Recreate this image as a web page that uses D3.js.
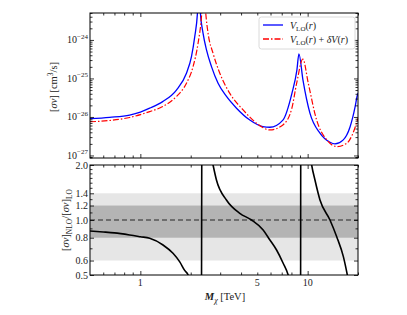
<!DOCTYPE html>
<html><head><meta charset="utf-8">
<script src="https://cdn.jsdelivr.net/npm/d3@7"></script>
<style>body{margin:0;background:#fff}svg{display:block}text{font-family:"Liberation Serif","DejaVu Serif",serif;fill:#222}</style>
</head><body><svg id="c" width="407" height="315"></svg>
<script>
// ---- data ----
const massBlue = [0.5,0.655,0.863,1.0,1.137,1.36,1.643,1.886,2.021,2.114,2.194,2.24,2.286,2.371,2.485,2.662,2.915,3.273,3.757,4.513,5.398,5.947,7.115,8.054,8.628,8.87,9.373,10.32,11.85,13.6,14.57,16.27,17.92,19.2,19.74,20];
const sigmaBlue = [9.0e-27,9.8e-27,1.12e-26,1.34e-26,1.69e-26,2.5e-26,5.0e-26,1.37e-25,3.7e-25,1.22e-24,4.9e-24,3e-23,4.9e-24,1.48e-24,5.5e-25,2.03e-25,7.5e-26,3.4e-26,1.69e-26,8.3e-27,5.6e-27,5.4e-27,8.3e-27,4.1e-26,1.67e-25,4.35e-25,9.2e-26,1.26e-26,3.8e-27,2.2e-27,2.0e-27,2.5e-27,5.5e-27,1.8e-26,3.4e-26,4.2e-26];
const massRed = [0.5,0.655,0.863,1.137,1.36,1.643,1.886,2.066,2.213,2.319,2.39,2.46,2.54,2.72,2.985,3.425,4.115,4.95,5.95,7.115,8.05,8.6,9.37,10.08,11.32,13.05,15.0,17.19,18.67,20.0];
const sigmaRed = [7.5e-27,8.1e-27,9.7e-27,1.38e-26,1.86e-26,3.4e-26,7.5e-26,2.03e-25,8.2e-25,4.0e-24,3e-23,4.9e-24,1.48e-24,4.5e-25,1.37e-25,4.1e-26,1.52e-26,6.9e-27,4.6e-27,6.2e-27,1.7e-26,7.6e-26,3.2e-25,7.6e-26,8.3e-27,2.5e-27,1.7e-27,2.1e-27,3.8e-27,9.3e-27];
const massRatio = [0.5,0.6,0.7,0.863,1.0,1.137,1.366,1.567,1.72,1.84,1.93,2.1,2.31,2.34,2.5,2.72,2.85,3.27,3.93,4.62,5.42,5.95,6.52,7.14,7.65,8.5,9.06,9.11,10.0,10.57,11.06,11.85,13.6,14.92,16.35,17.27,18.5,20];
const ratio = [0.87,0.86,0.85,0.828,0.81,0.794,0.73,0.657,0.59,0.53,0.5,0.3,0.1,10,3,2.0,1.655,1.287,1.088,1.0,0.882,0.777,0.685,0.58,0.5,0.3,0.1,10,3,2.0,1.655,1.287,1.0,0.81,0.63,0.5,0.35,0.25];
const xTickLabels = [1,5,10];
const yTopMajor = [1e-27,1e-26,1e-25,1e-24];
const yTopLabels = ["−27","−26","−25","−24"];
const yBotLabels = [0.5,0.6,0.8,1.0,1.2,1.4,2.0];
const bandOuter = [0.6,1.4], bandInner = [0.8,1.2];
const legendLabels = ["V_LO(r)","V_LO(r) + δV(r)"];

// ---- layout ----
const L=90,R=358,T1=13,B1=158,T2=165,B2=275;
const svg=d3.select("#c");
const x=d3.scaleLog().domain([0.5,20]).range([L,R]);
const yT=d3.scaleLog().domain([8.6e-28,5e-24]).range([B1,T1]);
const yB=d3.scaleLog().domain([0.5,2]).range([B2,T2]);

const defs=svg.append("defs");
defs.append("clipPath").attr("id","cp1").append("rect").attr("x",L).attr("y",T1).attr("width",R-L).attr("height",B1-T1);
defs.append("clipPath").attr("id","cp2").append("rect").attr("x",L).attr("y",T2).attr("width",R-L).attr("height",B2-T2);

// bands
const gb=svg.append("g").attr("clip-path","url(#cp2)");
gb.append("rect").attr("x",L).attr("width",R-L).attr("y",yB(bandOuter[1])).attr("height",yB(bandOuter[0])-yB(bandOuter[1])).attr("fill","#e6e6e6");
gb.append("rect").attr("x",L).attr("width",R-L).attr("y",yB(bandInner[1])).attr("height",yB(bandInner[0])-yB(bandInner[1])).attr("fill","#b4b4b4");
gb.append("line").attr("x1",L).attr("x2",R).attr("y1",yB(1)).attr("y2",yB(1)).attr("stroke","#555").attr("stroke-width",1.5).attr("stroke-dasharray","5,3");

// curves
const lineT=d3.line().x(d=>x(d[0])).y(d=>yT(d[1])).curve(d3.curveMonotoneX);
const lineB=d3.line().x(d=>x(d[0])).y(d=>yB(d[1])).curve(d3.curveMonotoneX);
const g1=svg.append("g").attr("clip-path","url(#cp1)");
g1.append("path").attr("d",lineT(d3.zip(massBlue,sigmaBlue))).attr("fill","none").attr("stroke","#0000ff").attr("stroke-width",1.3);
g1.append("path").attr("d",lineT(d3.zip(massRed,sigmaRed))).attr("fill","none").attr("stroke","#ff0000").attr("stroke-width",1.2).attr("stroke-dasharray","6,2,1.5,2");
const g2=svg.append("g").attr("clip-path","url(#cp2)");
g2.append("path").attr("d",lineB(d3.zip(massRatio,ratio))).attr("fill","none").attr("stroke","#000").attr("stroke-width",1.6);

// ticks
const xMinor=[0.6,0.7,0.8,0.9,2,3,4,5,6,7,8,9,20];
const xMajor=[1,10];
function ticks(g,axis,vals,size){g.call(axis.tickValues(vals).tickSize(-size).tickFormat(""));g.select(".domain").remove();g.selectAll("line").attr("stroke","#000").attr("stroke-width",0.8);}
function xTicks(top,bot){
 ticks(svg.append("g").attr("transform",`translate(0,${bot})`),d3.axisBottom(x),xMajor,4);
 ticks(svg.append("g").attr("transform",`translate(0,${bot})`),d3.axisBottom(x),xMinor,2.5);
 ticks(svg.append("g").attr("transform",`translate(0,${top})`),d3.axisTop(x),xMajor,4);
 ticks(svg.append("g").attr("transform",`translate(0,${top})`),d3.axisTop(x),xMinor,2.5);
}
xTicks(T1,B1); xTicks(T2,B2);
const yTopMinor=[];
for(let e=-28;e<=-24;e++)for(let k=2;k<=9;k++){const v=k*Math.pow(10,e);if(v>=8.6e-28&&v<=5e-24)yTopMinor.push(v);}
yTopMinor.push(9e-28);
[[d3.axisLeft,L],[d3.axisRight,R]].forEach(([a,px])=>{
 ticks(svg.append("g").attr("transform",`translate(${px},0)`),a(yT),yTopMajor,4);
 ticks(svg.append("g").attr("transform",`translate(${px},0)`),a(yT),yTopMinor,2.5);
});
const yBotMinor=d3.range(5,21).map(d=>d/10).filter(v=>!yBotLabels.includes(v));
[[d3.axisLeft,L],[d3.axisRight,R]].forEach(([a,px])=>{
 ticks(svg.append("g").attr("transform",`translate(${px},0)`),a(yB),yBotLabels,4);
 ticks(svg.append("g").attr("transform",`translate(${px},0)`),a(yB),yBotMinor,2.5);
});
// frames
[[T1,B1],[T2,B2]].forEach(([t,b])=>svg.append("rect").attr("x",L).attr("y",t).attr("width",R-L).attr("height",b-t).attr("fill","none").attr("stroke","#000").attr("stroke-width",1));

// tick labels
xTickLabels.forEach(v=>svg.append("text").attr("x",x(v)).attr("y",286).attr("text-anchor","middle").attr("font-size",10).text(v));
yTopMajor.forEach((v,i)=>{const t=svg.append("text").attr("x",L-2).attr("y",yT(v)+3.5).attr("text-anchor","end").attr("font-size",10);
 t.append("tspan").text("10");t.append("tspan").attr("dy",-4.5).attr("font-size",7).text(yTopLabels[i]);});
yBotLabels.forEach(v=>svg.append("text").attr("x",L-2).attr("y",yB(v)+3.5).attr("text-anchor","end").attr("font-size",10).text(v.toFixed(1)));

// axis titles
const t1=svg.append("text").attr("transform",`translate(57,87) rotate(-90)`).attr("text-anchor","middle").attr("font-size",10.5);
t1.append("tspan").text("[");t1.append("tspan").attr("font-style","italic").text("σv");t1.append("tspan").text("] [cm");
t1.append("tspan").attr("dy",-4).attr("font-size",7.5).text("3");t1.append("tspan").attr("dy",4).text("/s]");
const t2=svg.append("text").attr("transform",`translate(69,220) rotate(-90)`).attr("text-anchor","middle").attr("font-size",10.5);
t2.append("tspan").text("[");t2.append("tspan").attr("font-style","italic").text("σv");t2.append("tspan").text("]");
t2.append("tspan").attr("dy",3).attr("font-size",7.5).text("NLO");t2.append("tspan").attr("dy",-3).text("/[");
t2.append("tspan").attr("font-style","italic").text("σv");t2.append("tspan").text("]");
t2.append("tspan").attr("dy",3).attr("font-size",7.5).text("LO");
const t3=svg.append("text").attr("x",225).attr("y",300).attr("text-anchor","middle").attr("font-size",10.5);
t3.append("tspan").attr("font-style","italic").attr("font-weight","bold").text("M");
t3.append("tspan").attr("dy",3).attr("font-size",8).attr("font-style","italic").text("χ");
t3.append("tspan").attr("dy",-3).text(" [TeV]");

// legend
const lg=svg.append("g");
lg.append("rect").attr("x",259).attr("y",17).attr("width",96).attr("height",32).attr("rx",2.5).attr("fill","#fff").attr("fill-opacity",0.8).attr("stroke","#d0d0d0").attr("stroke-width",0.8);
const items=[{c:"#0000ff",d:null},{c:"#ff0000",d:"6,2,1.5,2"}];
items.forEach((it,i)=>{const yy=25+i*14;
 lg.append("line").attr("x1",263).attr("x2",283).attr("y1",yy).attr("y2",yy).attr("stroke",it.c).attr("stroke-width",1.3).attr("stroke-dasharray",it.d);
 const t=lg.append("text").attr("x",290).attr("y",yy+3.5).attr("font-size",10);
 t.append("tspan").attr("font-style","italic").text("V");
 t.append("tspan").attr("dy",2.5).attr("font-size",7).text("LO");
 t.append("tspan").attr("dy",-2.5).text("(");t.append("tspan").attr("font-style","italic").text("r");t.append("tspan").text(")");
 if(i===1){t.append("tspan").text(" + ");t.append("tspan").attr("font-style","italic").text("δV");t.append("tspan").text("(");t.append("tspan").attr("font-style","italic").text("r");t.append("tspan").text(")");}
});
</script></body></html>
